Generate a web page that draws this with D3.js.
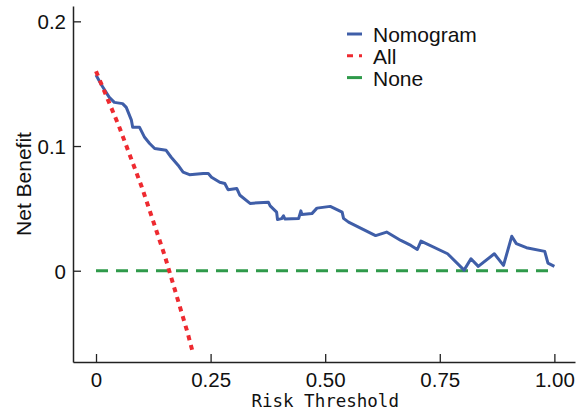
<!DOCTYPE html>
<html>
<head>
<meta charset="utf-8">
<script src="https://cdn.jsdelivr.net/npm/d3@7"></script>
<style>
  body { margin: 0; background: #fff; }
  svg { display: block; }
  .tick text { font-family: "Liberation Sans", Arial, sans-serif; font-size: 20.5px; fill: #111; }
</style>
</head>
<body>
<div id="chart"></div>
<script>
// Decision curve data
const nomoT = [0, 0.012, 0.029, 0.04, 0.058, 0.066, 0.077, 0.08, 0.095, 0.106, 0.117, 0.128, 0.153, 0.164,
  0.179, 0.19, 0.204, 0.234, 0.245, 0.252, 0.27, 0.281, 0.288, 0.307, 0.314, 0.336, 0.376, 0.38, 0.394,
  0.396, 0.405, 0.409, 0.412, 0.442, 0.447, 0.449, 0.471, 0.482, 0.511, 0.537, 0.54, 0.551, 0.61, 0.634,
  0.665, 0.687, 0.701, 0.709, 0.767, 0.803, 0.818, 0.834, 0.869, 0.889, 0.907, 0.917, 0.939, 0.979,
  0.986, 1.0];
const nomoNB = [0.157, 0.149, 0.139, 0.135, 0.134, 0.131, 0.121, 0.115, 0.115, 0.107, 0.102, 0.098, 0.0966, 0.091,
  0.0846, 0.079, 0.077, 0.078, 0.078, 0.075, 0.071, 0.07, 0.065, 0.066, 0.0605, 0.054, 0.055, 0.052, 0.047,
  0.041, 0.0418, 0.044, 0.0415, 0.0418, 0.048, 0.045, 0.0458, 0.0502, 0.0516, 0.047, 0.042, 0.039, 0.0282, 0.031,
  0.0243, 0.0203, 0.017, 0.0238, 0.0136, 0.0005, 0.0096, 0.0035, 0.0136, 0.0043, 0.0276, 0.0217, 0.0185, 0.0155,
  0.0061, 0.0035];
const allT = [0, 0.05, 0.1, 0.15, 0.2, 0.21];
const allNB = [0.16, 0.116, 0.067, 0.012, -0.05, -0.064];
const noneT = [0, 1];
const noneNB = [0, 0];

const xTicks = [0, 0.25, 0.5, 0.75, 1];
const xTickLabels = ["0", "0.25", "0.50", "0.75", "1.00"];
const yTicks = [0, 0.1, 0.2];
const yTickLabels = ["0", "0.1", "0.2"];

const legendNames = ["Nomogram", "All", "None"];
const colors = { Nomogram: "#3f5ea8", All: "#ee2a30", None: "#2f9a4a" };

const W = 584, H = 412;
const margin = { top: 6, right: 9, bottom: 50, left: 73 };
const width = W - margin.left - margin.right;
const height = H - margin.top - margin.bottom;

const svg = d3.select("#chart").append("svg")
  .attr("width", W)
  .attr("height", H);

const g = svg.append("g")
  .attr("transform", "translate(" + margin.left + "," + margin.top + ")");

const x = d3.scaleLinear().domain([-0.0502, 1.045]).range([0, width]);
const y = d3.scaleLinear().domain([-0.0732, 0.2123]).range([height, 0]);

// axes (ticks point inward)
const xAxis = d3.axisBottom(x)
  .tickValues(xTicks)
  .tickFormat((d, i) => xTickLabels[i])
  .tickSizeInner(-8).tickSizeOuter(0).tickPadding(10);
const yAxis = d3.axisLeft(y)
  .tickValues(yTicks)
  .tickFormat((d, i) => yTickLabels[i])
  .tickSizeInner(-8).tickSizeOuter(0).tickPadding(7);

const gx = g.append("g")
  .attr("transform", "translate(0," + height + ")")
  .call(xAxis);
const gy = g.append("g").call(yAxis);
[gx, gy].forEach(a => {
  a.select(".domain").attr("stroke", "#222").attr("stroke-width", 1.5);
  a.selectAll(".tick line").attr("stroke", "#222").attr("stroke-width", 1.3);
});
gx.selectAll(".tick text").attr("dy", "0.71em");
gy.selectAll(".tick text").attr("dy", "0.36em");

const line = d3.line().x(d => x(d[0])).y(d => y(d[1]));

// None
g.append("path")
  .datum(noneT.map((t, i) => [t, noneNB[i]]))
  .attr("d", line)
  .attr("fill", "none")
  .attr("stroke", colors.None)
  .attr("stroke-width", 3)
  .attr("stroke-dasharray", "12,8");

// Nomogram
g.append("path")
  .datum(nomoT.map((t, i) => [t, nomoNB[i]]))
  .attr("d", line)
  .attr("fill", "none")
  .attr("stroke", colors.Nomogram)
  .attr("stroke-width", 3)
  .attr("stroke-linejoin", "round");

// All
g.append("path")
  .datum(allT.map((t, i) => [t, allNB[i]]))
  .attr("d", line)
  .attr("fill", "none")
  .attr("stroke", colors.All)
  .attr("stroke-width", 4)
  .attr("stroke-dasharray", "5,5");

// axis titles
svg.append("text")
  .attr("x", margin.left + x(0.5))
  .attr("y", 407)
  .attr("text-anchor", "middle")
  .style("font-family", "'DejaVu Sans Mono', monospace")
  .style("font-size", "17.5px")
  .style("fill", "#111")
  .text("Risk Threshold");

svg.append("text")
  .attr("transform", "translate(31," + 184 + ") rotate(-90)")
  .attr("text-anchor", "middle")
  .style("font-family", "'Liberation Sans', Arial, sans-serif")
  .style("font-size", "21px")
  .style("fill", "#111")
  .text("Net Benefit");

// legend
const legend = svg.append("g").attr("transform", "translate(347,34)");
const dashes = { Nomogram: null, All: "6,6", None: null };
legendNames.forEach((name, i) => {
  const row = legend.append("g").attr("transform", "translate(0," + i * 21.8 + ")");
  row.append("line")
    .attr("x1", 0).attr("x2", 15).attr("y1", 0).attr("y2", 0)
    .attr("stroke", colors[name])
    .attr("stroke-width", 3)
    .attr("stroke-dasharray", dashes[name]);
  row.append("text")
    .attr("x", 26).attr("y", 8)
    .style("font-family", "'Liberation Sans', Arial, sans-serif")
    .style("font-size", "21px")
    .style("fill", "#111")
    .text(name);
});
</script>
</body>
</html>
